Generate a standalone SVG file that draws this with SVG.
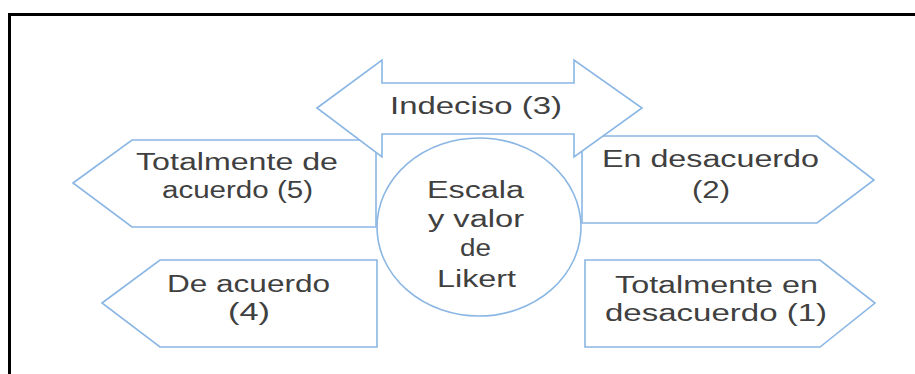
<svg xmlns="http://www.w3.org/2000/svg" width="915" height="374" viewBox="0 0 915 374">
<style>
.shape{fill:#ffffff;stroke:#8ab6e4;stroke-width:1.6;stroke-linejoin:miter}
.lbl{font-family:"Liberation Sans",Arial,sans-serif;font-size:23px;fill:#404040}
</style>
<rect x="0" y="0" width="915" height="374" fill="#ffffff"/>
<path d="M9.5,374 V14.5 H915" fill="none" stroke="#000000" stroke-width="3"/>
<g id="node-5">
<polygon class="shape" points="73,183 132,140 376,140 376,227 132,227"/>
<text class="lbl" x="136" y="170" textLength="202" lengthAdjust="spacingAndGlyphs">Totalmente de</text>
<text class="lbl" x="162" y="198" textLength="151" lengthAdjust="spacingAndGlyphs">acuerdo (5)</text>
</g>
<g id="node-4">
<polygon class="shape" points="102,303 160,260 377,260 377,347 160,347"/>
<text class="lbl" x="167" y="292" textLength="163" lengthAdjust="spacingAndGlyphs">De acuerdo</text>
<text class="lbl" x="228" y="320" textLength="42" lengthAdjust="spacingAndGlyphs">(4)</text>
</g>
<g id="node-2">
<polygon class="shape" points="582,136 817,136 874,180 817,223 582,223"/>
<text class="lbl" x="602" y="167" textLength="217" lengthAdjust="spacingAndGlyphs">En desacuerdo</text>
<text class="lbl" x="692" y="198" textLength="38" lengthAdjust="spacingAndGlyphs">(2)</text>
</g>
<g id="node-1">
<polygon class="shape" points="585,260 820,260 875,303 820,347 585,347"/>
<text class="lbl" x="615" y="293" textLength="203" lengthAdjust="spacingAndGlyphs">Totalmente en</text>
<text class="lbl" x="605" y="321" textLength="222" lengthAdjust="spacingAndGlyphs">desacuerdo (1)</text>
</g>
<g id="node-3">
<polygon class="shape" points="317,108 382,60 382,83 574,83 574,60 642,108 574,157 574,134 382,134 382,157"/>
<text class="lbl" x="390" y="114" textLength="172" lengthAdjust="spacingAndGlyphs">Indeciso (3)</text>
</g>
<g id="center">
<ellipse class="shape" cx="479" cy="227" rx="102" ry="89"/>
<text class="lbl" x="427" y="198" textLength="97" lengthAdjust="spacingAndGlyphs">Escala</text>
<text class="lbl" x="428" y="227" textLength="96" lengthAdjust="spacingAndGlyphs">y valor</text>
<text class="lbl" x="460" y="256" textLength="31" lengthAdjust="spacingAndGlyphs">de</text>
<text class="lbl" x="437" y="287" textLength="79" lengthAdjust="spacingAndGlyphs">Likert</text>
</g>
<g id="connectors"></g>
</svg>
